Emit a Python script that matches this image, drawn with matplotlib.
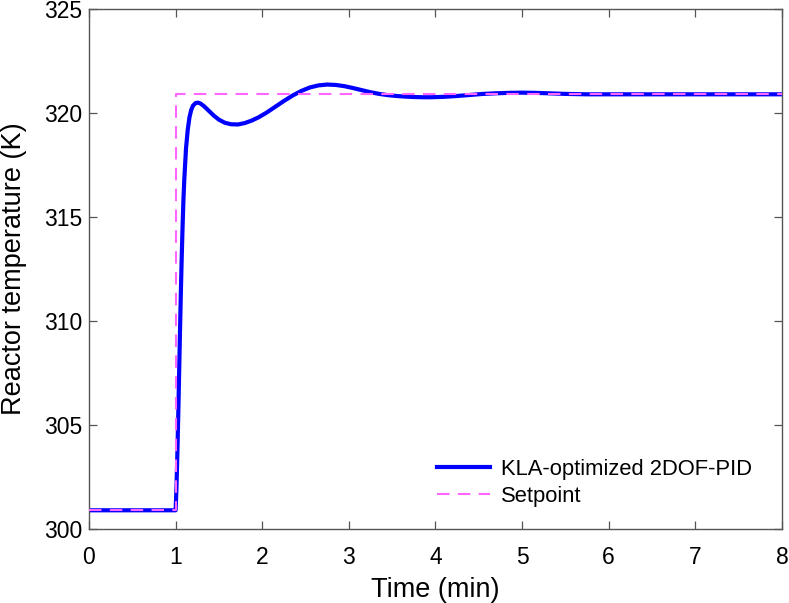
import numpy as np
import matplotlib
matplotlib.use("Agg")
import matplotlib.pyplot as plt

# %%
# values
time_pid = [0.0, 1.0, 1.01, 1.02, 1.03, 1.04, 1.05, 1.06, 1.07, 1.08, 1.09, 1.10,
            1.12, 1.14, 1.16, 1.18, 1.20, 1.23, 1.26, 1.29, 1.33, 1.38, 1.44,
            1.50, 1.57, 1.64, 1.72, 1.80, 1.88, 1.96, 2.05, 2.15, 2.25, 2.35,
            2.45, 2.55, 2.65, 2.75, 2.85, 2.95, 3.05, 3.15, 3.25, 3.35, 3.45,
            3.55, 3.65, 3.75, 3.85, 3.95, 4.1, 4.25, 4.4, 4.55, 4.7, 4.85,
            5.0, 5.15, 5.3, 5.5, 5.75, 6.0, 7.0, 8.0]
temp_pid = [300.9, 300.9, 302.0, 303.6, 305.4, 307.4, 309.4, 311.3, 313.0, 314.5,
            315.8, 316.8, 318.3, 319.2, 319.8, 320.15, 320.35, 320.48, 320.5,
            320.45, 320.32, 320.12, 319.88, 319.68, 319.53, 319.46, 319.45,
            319.52, 319.64, 319.8, 320.02, 320.3, 320.58, 320.84, 321.06, 321.23,
            321.33, 321.37, 321.35, 321.29, 321.2, 321.1, 321.0, 320.92,
            320.86, 320.82, 320.79, 320.77, 320.76, 320.76, 320.78, 320.82,
            320.87, 320.92, 320.95, 320.97, 320.98, 320.97, 320.95, 320.92,
            320.9, 320.9, 320.9, 320.9]

time_sp = [0, 1, 1, 8]
temp_sp = [300.9, 300.9, 320.9, 320.9]

xticks = [0, 1, 2, 3, 4, 5, 6, 7, 8]
yticks = [300, 305, 310, 315, 320, 325]

# %%
plt.rcParams['font.family'] = ['Liberation Sans', 'DejaVu Sans']

fig = plt.figure(figsize=(7.89, 6.03), dpi=100)
ax = fig.add_axes([0.1128, 0.1227, 0.8783, 0.8623])

ax.plot(time_pid, temp_pid, color='#0000ff', lw=3, label='KLA-optimized 2DOF-PID', zorder=2)
ax.plot(time_sp, temp_sp, color='#ff66ff', lw=1.5, ls=(0, (6, 4)), label='Setpoint', zorder=3)

ax.set_xlim(0, 8)
ax.set_ylim(300, 325)
ax.set_xticks(xticks)
ax.set_yticks(yticks)
ax.tick_params(direction='in', top=True, right=True, labelsize=16.5, length=6,
               color='#555555', width=0.9)
ax.tick_params(axis='x', pad=12)
ax.tick_params(axis='y', pad=5)
for sp in ax.spines.values():
    sp.set_color('#555555')
    sp.set_linewidth(1.0)

ax.set_xlabel('Time (min)', fontsize=19.5, labelpad=6)
ax.set_ylabel('Reactor temperature (K)', fontsize=19.5, labelpad=12)

ax.legend(loc='lower right', bbox_to_anchor=(0.985, 0.005), frameon=False, fontsize=15.8,
          handlelength=2.4, handletextpad=0.5, labelspacing=0.25)

fig.savefig('out.png', dpi=100)
